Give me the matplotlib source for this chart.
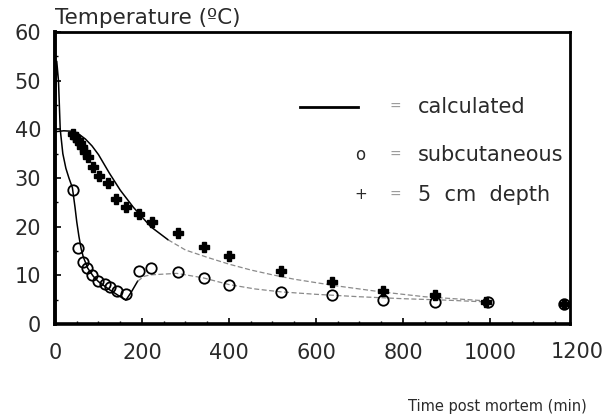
import matplotlib
matplotlib.use("Agg")
import matplotlib.pyplot as plt
from matplotlib.ticker import MultipleLocator
from matplotlib.lines import Line2D

# ---- data ----
deep_calc_t = [0, 20, 40, 55, 70, 85, 100, 125, 150, 180, 220, 260, 300, 350, 400, 450,
               500, 550, 600, 650, 700, 750, 800, 850, 900, 950, 1000]
deep_calc_T = [39.5, 39.7, 39.6, 39.0, 38.0, 36.6, 34.8, 31.0, 27.5, 24.0, 20.0, 17.3, 15.2,
               13.7, 12.3, 11.1, 10.1, 9.2, 8.5, 7.8, 7.2, 6.6, 6.1, 5.6, 5.3, 5.0, 4.7]
deep_split = 11

sub_calc_t = [0, 4, 8, 12, 18, 25, 32, 40, 46, 50, 55, 60, 65, 75, 88, 100, 126, 145, 163,
              175, 190, 205, 220, 280, 340, 400, 460, 520, 600, 700, 800, 900, 1000]
sub_calc_T = [40, 54, 50, 40, 35, 32, 30, 28, 24, 21, 18, 15.5, 13.8, 11.5, 9.8, 8.7, 7.0,
              5.9, 4.9, 6.5, 8.8, 9.8, 10.1, 10.4, 9.5, 8.1, 7.2, 6.6, 6.1, 5.6, 5.2, 4.9, 4.5]
sub_split = 20

sub_t = [42, 54, 64, 73, 86, 100, 115, 126, 143, 163, 193, 220, 283, 343, 401, 520, 636, 755, 874, 995, 1170]
sub_T = [27.6, 15.6, 12.8, 11.6, 10.1, 8.9, 8.2, 7.7, 6.8, 6.1, 10.8, 11.5, 10.7, 9.4, 8.0, 6.6,
         6.0, 4.9, 4.6, 4.5, 4.2]

deep_t = [42, 47, 52, 57, 63, 69, 76, 88, 102, 121, 141, 163, 192, 223, 283, 343, 401, 520,
          636, 754, 874, 992, 1170]
deep_T = [39.0, 38.4, 37.8, 37.2, 36.3, 35.4, 34.3, 32.3, 30.4, 29.0, 25.7, 24.0, 22.7, 21.0,
          18.6, 15.9, 14.0, 10.9, 8.7, 6.8, 6.0, 4.6, 4.2]

xticks = [0, 200, 400, 600, 800, 1000]
extra_xtick = 1200
yticks = [0, 10, 20, 30, 40, 50, 60]
legend_labels = ["calculated", "subcutaneous", "5  cm  depth"]

plt.rcParams['font.family'] = ['DejaVu Sans']
txtc = '#2a2a2a'

fig = plt.figure(figsize=(6.03, 4.20), dpi=100)
ax = fig.add_axes([55/603, 1-324/420, 515/603, 292/420])
ax.set_xlim(0, 1184)
ax.set_ylim(0, 60)

# calculated curves
ax.plot(deep_calc_t[:deep_split+1], deep_calc_T[:deep_split+1], color='black', lw=1.1)
ax.plot(deep_calc_t[deep_split:], deep_calc_T[deep_split:], color='#8a8a8a', lw=0.9,
        dashes=(4, 2))
ax.plot(sub_calc_t[:sub_split+1], sub_calc_T[:sub_split+1], color='black', lw=1.1)
ax.plot(sub_calc_t[sub_split:], sub_calc_T[sub_split:], color='#8a8a8a', lw=0.9,
        dashes=(4, 2))

# measurements
ax.plot(deep_t, deep_T, linestyle='none', marker='P', ms=7.5, color='black', mec='black')
ax.plot(sub_t, sub_T, linestyle='none', marker='o', ms=7.5, mfc='none', mec='black', mew=1.3)

# spines
for s, w in [('left', 2.8), ('bottom', 2.6), ('top', 2.0), ('right', 2.0)]:
    ax.spines[s].set_linewidth(w)
    ax.spines[s].set_color('black')

ax.set_xticks(xticks)
ax.set_yticks(yticks)
ax.xaxis.set_minor_locator(MultipleLocator(50))
ax.yaxis.set_minor_locator(MultipleLocator(5))
ax.tick_params(axis='both', which='major', direction='in', length=4, width=1.2,
               labelsize=15, labelcolor=txtc)
ax.tick_params(axis='both', which='minor', direction='in', length=2.5, width=1)
ax.tick_params(axis='x', which='major', pad=14)
ax.tick_params(axis='y', which='major', pad=10)

ax.text(extra_xtick, -28/292, str(extra_xtick), transform=ax.get_xaxis_transform(),
        ha='center', va='center', fontsize=15, color=txtc, clip_on=False)

fig.text(55/603, 1-18/420, "Temperature (ºC)", ha='left', va='center', fontsize=15.5,
         color=txtc)
fig.text(497/603, 1-407/420, "Time post mortem (min)", ha='center', va='center',
         fontsize=10.5, color=txtc)

# legend (drawn manually)
ly = [0.743, 0.579, 0.442]
ax.add_line(Line2D([0.476, 0.588], [ly[0], ly[0]], transform=ax.transAxes, color='black', lw=2))
ax.text(0.592, ly[1], "o", transform=ax.transAxes, ha='center', va='center', fontsize=12, color=txtc)
ax.text(0.594, ly[2], "+", transform=ax.transAxes, ha='center', va='center', fontsize=11, color=txtc)
for y in ly:
    ax.text(0.66, y, "=", transform=ax.transAxes, ha='center', va='center', fontsize=10,
            color='#999999')
for y, lab in zip(ly, legend_labels):
    ax.text(0.705, y, lab, transform=ax.transAxes, ha='left', va='center', fontsize=15,
            color=txtc)

fig.savefig("out.png", dpi=100)
